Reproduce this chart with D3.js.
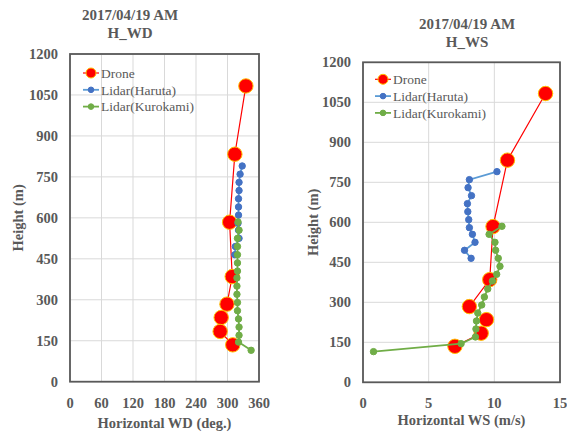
<html>
<head>
<script src="https://d3js.org/d3.v7.min.js"></script>
<style>
  body { margin: 0; background: #fff; }
  text { font-family: "Liberation Serif", "Times New Roman", serif; fill: #595959; }
</style>
</head>
<body>
<svg id="chart" width="567" height="437"></svg>
<script>
// heights (m)
var droneH = [1083, 833, 584, 385, 284, 235, 184, 135];
var harutaH = [790, 760, 730, 700, 670, 640, 610, 580, 555, 525, 495, 465];
var kuroH = [585, 555, 525, 495, 465, 435, 405, 380, 350, 320, 290, 260, 230, 200, 170, 145, 115];

// wind direction (deg.)
var droneWD = [335, 314, 304, 309, 299, 288, 286, 310];
var harutaWD = [328, 324, 322, 322, 321, 321, 321, 320, 321, 322, 315, 314];
var kuroWD = [320, 322, 319, 319, 319, 319, 319, 318, 318, 318, 319, 319, 321, 322, 322, 321, 345];

// wind speed (m/s)
var droneWS = [13.9, 11.0, 9.9, 9.65, 8.1, 9.4, 9.0, 7.0];
var harutaWS = [10.2, 8.1, 8.0, 8.26, 7.95, 7.98, 8.05, 8.1, 8.33, 8.53, 7.73, 8.23];
var kuroWS = [10.58, 9.6, 10.05, 10.1, 10.3, 10.43, 10.18, 9.85, 9.5, 9.24, 9.04, 8.74, 8.64, 8.6, 8.56, 7.47, 0.8];

var yTicks = [0, 150, 300, 450, 600, 750, 900, 1050, 1200];
var wdTicks = [0, 60, 120, 180, 240, 300, 360];
var wsTicks = [0, 5, 10, 15];
var seriesNames = ["Drone", "Lidar(Haruta)", "Lidar(Kurokami)"];

var svg = d3.select("#chart");
var grey = "#595959";

function pair(xs, ys) {
  return xs.map(function(v, i) { return { x: v, h: ys[i] }; });
}

function panel(opt) {
  var g = svg.append("g");
  var x = d3.scaleLinear().domain(opt.xDomain).range([opt.left, opt.right]);
  var y = d3.scaleLinear().domain([0, 1200]).range([opt.bottom, opt.top]);

  // grid
  g.selectAll(".hg").data(yTicks).enter().append("line")
    .attr("x1", opt.left).attr("x2", opt.right)
    .attr("y1", function(d) { return y(d); }).attr("y2", function(d) { return y(d); })
    .attr("stroke", "#d9d9d9").attr("stroke-width", 1);
  g.selectAll(".vg").data(opt.xTicks).enter().append("line")
    .attr("x1", function(d) { return x(d); }).attr("x2", function(d) { return x(d); })
    .attr("y1", opt.top).attr("y2", opt.bottom)
    .attr("stroke", "#d9d9d9").attr("stroke-width", 1);

  // frame
  g.append("rect")
    .attr("x", opt.left).attr("y", opt.top)
    .attr("width", opt.right - opt.left).attr("height", opt.bottom - opt.top)
    .attr("fill", "none").attr("stroke", grey).attr("stroke-width", 1.8);

  // tick labels
  g.selectAll(".yl").data(yTicks).enter().append("text")
    .attr("x", opt.left - 12).attr("y", function(d) { return y(d); })
    .attr("dy", "0.35em").attr("text-anchor", "end")
    .attr("font-size", 14.5).attr("font-weight", "bold")
    .text(function(d) { return d; });
  g.selectAll(".xl").data(opt.xTicks).enter().append("text")
    .attr("x", function(d) { return x(d); }).attr("y", opt.bottom + 21)
    .attr("dy", "0.35em").attr("text-anchor", "middle")
    .attr("font-size", 14.5).attr("font-weight", "bold")
    .text(function(d) { return d; });

  // axis titles
  g.append("text")
    .attr("transform", "translate(" + opt.yTitleX + "," + ((opt.top + opt.bottom) / 2) + ") rotate(-90)")
    .attr("text-anchor", "middle").attr("dy", "0.35em")
    .attr("font-size", 14.5).attr("font-weight", "bold")
    .text("Height (m)");
  g.append("text")
    .attr("x", (opt.left + opt.right) / 2).attr("y", opt.xTitleY)
    .attr("text-anchor", "middle").attr("dy", "0.35em")
    .attr("font-size", 14.5).attr("font-weight", "bold")
    .text(opt.xTitle);

  // chart title
  g.append("text")
    .attr("x", opt.titleX).attr("y", opt.titleY)
    .attr("text-anchor", "middle").attr("dy", "0.35em")
    .attr("font-size", 15).attr("font-weight", "bold")
    .text("2017/04/19 AM");
  g.append("text")
    .attr("x", opt.titleX).attr("y", opt.titleY + 18)
    .attr("text-anchor", "middle").attr("dy", "0.35em")
    .attr("font-size", 15).attr("font-weight", "bold")
    .text(opt.title);

  var line = d3.line().x(function(d) { return x(d.x); }).y(function(d) { return y(d.h); });

  var series = [
    { data: pair(opt.drone, droneH), stroke: "#ff0000", fill: "#ff0000", mstroke: "#ffc000", r: 7.2, sw: 1.2 },
    { data: pair(opt.haruta, harutaH), stroke: "#5b9bd5", fill: "#4472c4", mstroke: "#4472c4", r: 3.2, sw: 1.8 },
    { data: pair(opt.kuro, kuroH), stroke: "#70ad47", fill: "#70ad47", mstroke: "#70ad47", r: 3.2, sw: 1.8 }
  ];

  series.forEach(function(s) {
    g.append("path").datum(s.data)
      .attr("fill", "none").attr("stroke", s.stroke).attr("stroke-width", s.sw)
      .attr("d", line);
    g.selectAll(null).data(s.data).enter().append("circle")
      .attr("cx", function(d) { return x(d.x); })
      .attr("cy", function(d) { return y(d.h); })
      .attr("r", s.r)
      .attr("fill", s.fill).attr("stroke", s.mstroke).attr("stroke-width", 1);
  });

  // legend
  series.forEach(function(s, i) {
    var ly = opt.legY + i * 16.8;
    g.append("line")
      .attr("x1", opt.legX).attr("x2", opt.legX + 16)
      .attr("y1", ly).attr("y2", ly)
      .attr("stroke", s.stroke).attr("stroke-width", s.sw);
    g.append("circle")
      .attr("cx", opt.legX + 8).attr("cy", ly)
      .attr("r", i == 0 ? 5 : 2.8)
      .attr("fill", s.fill).attr("stroke", s.mstroke).attr("stroke-width", 1);
    g.append("text")
      .attr("x", opt.legX + 18).attr("y", ly)
      .attr("dy", "0.35em").attr("font-size", 13.5)
      .text(seriesNames[i]);
  });
}

panel({
  xDomain: [0, 360], xTicks: wdTicks,
  left: 70, right: 259, top: 54, bottom: 381.7,
  drone: droneWD, haruta: harutaWD, kuro: kuroWD,
  xTitle: "Horizontal WD (deg.)", xTitleY: 423, yTitleX: 18,
  title: "H_WD", titleX: 130, titleY: 15,
  legX: 83, legY: 73
});

panel({
  xDomain: [0, 15], xTicks: wsTicks,
  left: 363, right: 560, top: 62.3, bottom: 382.3,
  drone: droneWS, haruta: harutaWS, kuro: kuroWS,
  xTitle: "Horizontal WS (m/s)", xTitleY: 420, yTitleX: 313,
  title: "H_WS", titleX: 467, titleY: 24,
  legX: 375, legY: 79.3
});
</script>
</body>
</html>
